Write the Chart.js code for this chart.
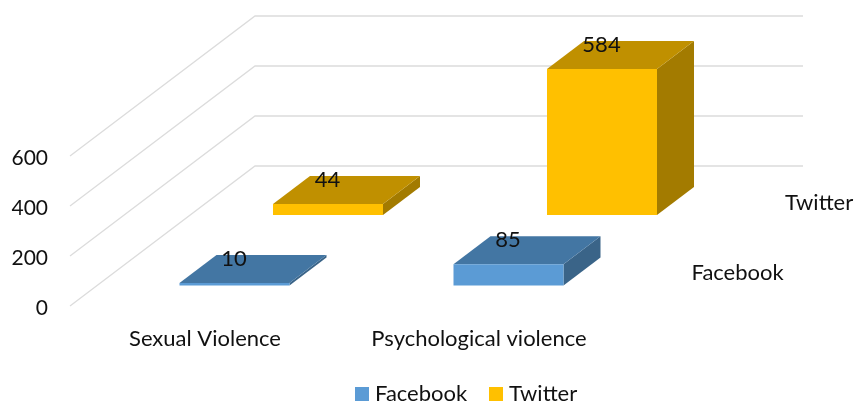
<!DOCTYPE html>
<html>
<head>
<meta charset="utf-8">
<script src="https://cdn.jsdelivr.net/npm/chart.js@4/dist/chart.umd.min.js"></script>
<style>
    html, body { margin: 0; padding: 0; background: #fff; }
    canvas { display: block; }
</style>
</head>
<body>
<canvas id="chart" width="855" height="403"></canvas>
<script>
const categories = ['Sexual Violence', 'Psychological violence'];
const facebookValues = [10, 85];
const twitterValues = [44, 584];
const yTicks = [0, 200, 400, 600];

const FONT = "Lato, 'Open Sans', sans-serif";
const TEXT = '#111111';
const GRID = '#dcdcdc';

// projection of the fake depth axis
const WALL_DX = 185, WALL_DY = -140, WALL_RIGHT = 803;
const ROW_OFFSET = [{ dx: 27.5, dy: -20.5 }, { dx: 121, dy: -91 }];
const BAR_DX = 37, BAR_DY = -28;
const FACES = [
    { top: '#4376a3', side: '#3a6488' },
    { top: '#c09000', side: '#a37b00' }
];
const LEGEND_X = [{ box: 355, text: 375 }, { box: 489, text: 509 }];

const bars3d = {
    id: 'bars3d',
    beforeDatasetsDraw(chart) {
        const { ctx, chartArea } = chart;
        const y = chart.scales.y;
        ctx.save();
        ctx.strokeStyle = GRID;
        ctx.lineWidth = 1.3;
        yTicks.forEach(t => {
            const py = y.getPixelForValue(t);
            ctx.beginPath();
            ctx.moveTo(chartArea.left, py);
            ctx.lineTo(chartArea.left + WALL_DX, py + WALL_DY);
            ctx.lineTo(WALL_RIGHT, py + WALL_DY);
            ctx.stroke();
        });
        ctx.restore();
    },
    // draws the box by hand, then skips the flat bar of Chart.js
    beforeDatasetDraw(chart, args) {
        const { ctx, chartArea } = chart;
        const i = args.index;
        const off = ROW_OFFSET[i];
        const face = FACES[i];
        const ds = chart.data.datasets[i];
        args.meta.data.forEach(bar => {
            const { x, y, base, width } = bar.getProps(['x', 'y', 'base', 'width'], true);
            const l = x - width / 2 + off.dx, r = l + width;
            const t = y + off.dy, b = base + off.dy;
            poly(ctx, face.side, [[r, t], [r + BAR_DX, t + BAR_DY], [r + BAR_DX, b + BAR_DY], [r, b]]);
            poly(ctx, face.top, [[l, t], [l + BAR_DX, t + BAR_DY], [r + BAR_DX, t + BAR_DY], [r, t]]);
            poly(ctx, ds.backgroundColor, [[l, t], [r, t], [r, b], [l, b]]);
        });
        ctx.save();
        ctx.font = '22px ' + FONT;
        ctx.fillStyle = TEXT;
        ctx.textBaseline = 'middle';
        ctx.textAlign = 'left';
        ctx.fillText(ds.label, chartArea.right + off.dx + 46, chartArea.bottom + off.dy - 12.5);
        ctx.restore();
        return false;
    },
    afterDatasetsDraw(chart) {
        const { ctx } = chart;
        ctx.save();
        ctx.font = '22px ' + FONT;
        ctx.fillStyle = TEXT;
        ctx.textAlign = 'center';
        ctx.textBaseline = 'middle';
        chart.data.datasets.forEach((ds, i) => {
            chart.getDatasetMeta(i).data.forEach((bar, n) => {
                const { x, y } = bar.getProps(['x', 'y'], true);
                ctx.fillText(ds.data[n], x + ROW_OFFSET[i].dx - 0.5, y + ROW_OFFSET[i].dy - 24.5);
            });
        });
        ctx.restore();
    },
    // legend sits right of the canvas centre in the original
    afterDraw(chart) {
        const { ctx } = chart;
        ctx.save();
        ctx.font = '22px ' + FONT;
        ctx.textAlign = 'left';
        ctx.textBaseline = 'middle';
        chart.data.datasets.forEach((ds, i) => {
            ctx.fillStyle = ds.backgroundColor;
            ctx.fillRect(LEGEND_X[i].box, 387, 14, 14);
            ctx.fillStyle = TEXT;
            ctx.fillText(ds.label, LEGEND_X[i].text, 394);
        });
        ctx.restore();
    }
};

function poly(ctx, fill, pts) {
    ctx.fillStyle = fill;
    ctx.beginPath();
    pts.forEach((p, i) => i ? ctx.lineTo(p[0], p[1]) : ctx.moveTo(p[0], p[1]));
    ctx.closePath();
    ctx.fill();
}

new Chart(document.getElementById('chart'), {
    type: 'bar',
    data: {
        labels: categories,
        datasets: [
            { label: 'Facebook', data: facebookValues, backgroundColor: '#5b9bd5' },
            { label: 'Twitter', data: twitterValues, backgroundColor: '#ffc000' }
        ]
    },
    plugins: [bars3d],
    options: {
        responsive: false,
        animation: false,
        devicePixelRatio: 1,
        layout: { padding: { top: 156, right: 237, left: 0, bottom: 0 } },
        datasets: { bar: { grouped: false, barPercentage: 1, categoryPercentage: 0.4015 } },
        scales: {
            x: {
                afterFit(scale) { scale.height = 97; },
                grid: { display: false },
                border: { display: false },
                ticks: { color: TEXT, font: { family: FONT, size: 22 }, padding: 12, labelOffset: -2, maxRotation: 0, autoSkip: false }
            },
            y: {
                min: 0,
                max: 600,
                afterFit(scale) { scale.width = 70; },
                afterBuildTicks(scale) { scale.ticks = yTicks.map(value => ({ value })); },
                grid: { display: false },
                border: { display: false },
                ticks: { color: TEXT, font: { family: FONT, size: 21 }, padding: 14, labelOffset: 2.5 }
            }
        },
        plugins: {
            tooltip: { enabled: false },
            legend: { display: false }
        }
    }
});
</script>
</body>
</html>
